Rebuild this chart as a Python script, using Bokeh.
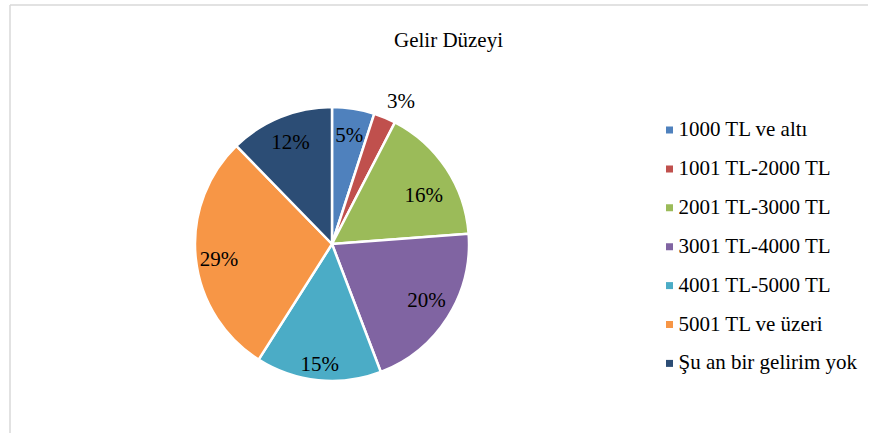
import math
from bokeh.plotting import figure
from bokeh.models import Range1d
from bokeh.core.properties import value
from bokeh.embed import file_html
from bokeh.resources import INLINE

# ---- data ----
title_text = "Gelir Düzeyi"
categories = ["1000 TL ve altı", "1001 TL-2000 TL", "2001 TL-3000 TL",
              "3001 TL-4000 TL", "4001 TL-5000 TL", "5001 TL ve üzeri",
              "Şu an bir gelirim yok"]
shares = [5.0, 2.6, 16.2, 20.4, 14.8, 28.7, 12.3]
pct_labels = ["5%", "3%", "16%", "20%", "15%", "29%", "12%"]
colors = ["#4F81BD", "#C0504D", "#9BBB59", "#8064A2", "#4BACC6", "#F79646", "#2C4D75"]

# ---- layout (pixels, page coordinates, y measured from top) ----
W, H = 868, 433
FONT = "Liberation Serif"


def Y(page_y):
    return H - page_y


cx, cy = 331.5, Y(243.5)      # pie centre
R = 137
label_r = [110, 159, 104, 110, 121, 114, 110]
label_nudge_deg = [0, 3, 5.5, -1.5, 0, -1.5, 0]

p = figure(width=W, height=H, output_backend="svg", toolbar_location=None,
           x_range=Range1d(0, W), y_range=Range1d(0, H), min_border=0)
p.axis.visible = False
p.grid.visible = False
p.outline_line_color = None
p.background_fill_color = "white"
p.border_fill_color = "white"

# chart border (light gray)
p.line(x=[9.5, 9.5], y=[-5, Y(4.5)], line_color="#D9D9D9", line_width=1.5)
p.line(x=[9.5, W + 5], y=[Y(4.5), Y(4.5)], line_color="#D9D9D9", line_width=1.5)

# title
p.text(x=[448], y=[Y(39.5)], text=[title_text], text_font=value(FONT),
       text_font_size="21px", text_align="center", text_baseline="middle",
       text_color="#000000")

# pie
total = sum(shares)
starts, ends, mids = [], [], []
cum = 0.0
for s in shares:
    a0 = math.pi / 2 - 2 * math.pi * cum / total
    cum += s
    a1 = math.pi / 2 - 2 * math.pi * cum / total
    starts.append(a0)
    ends.append(a1)
    mids.append((a0 + a1) / 2)

p.wedge(x=[cx] * len(shares), y=[cy] * len(shares), radius=R,
        start_angle=starts, end_angle=ends, direction="clock",
        fill_color=colors, line_color="white", line_width=2.5)

lang = [m - math.radians(d) for m, d in zip(mids, label_nudge_deg)]
lx = [cx + r * math.cos(a) for r, a in zip(label_r, lang)]
ly = [cy + r * math.sin(a) for r, a in zip(label_r, lang)]
p.text(x=lx, y=ly, text=pct_labels, text_font=value(FONT), text_font_size="21px",
       text_align="center", text_baseline="middle", text_color="#000000")

# legend
row0, step = 128.5, 38.9
mx = [669] * len(categories)
my = [Y(row0 + i * step) for i in range(len(categories))]
p.scatter(x=mx, y=[v - 1 for v in my], marker="square", size=7,
          fill_color=colors, line_color=None)
p.text(x=[678] * len(categories), y=my, text=categories,
       text_font=value(FONT), text_font_size="21px", text_align="left",
       text_baseline="middle", text_color="#000000")

open("out.html", "w").write(file_html(p, INLINE))
